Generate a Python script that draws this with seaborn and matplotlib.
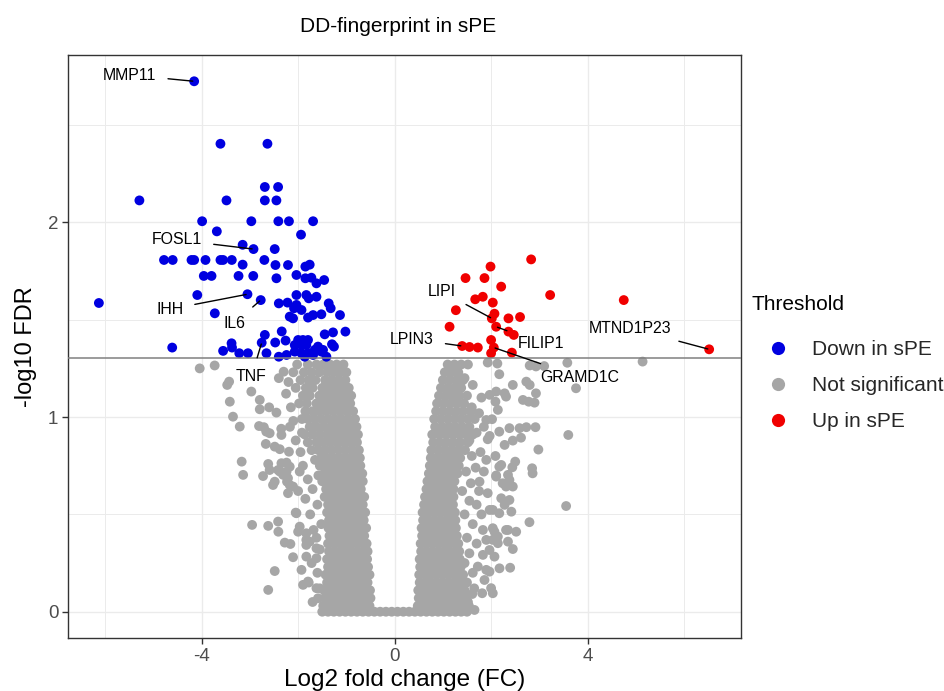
import matplotlib
matplotlib.use("Agg")
import matplotlib.pyplot as plt
import seaborn as sns
import pandas as pd
import numpy as np

# ---- significantly down-regulated genes (first five are labelled) ----
down_x = [-4.155, -2.925, -3.05, -2.775, -2.755,
          -3.61, -2.636, -5.29, -3.485, -2.69, -2.415, -2.69, -2.45,
          -3.99, -2.97, -2.41, -2.19, -1.69, -3.685, -1.94, -3.15, -2.485,
          -4.78, -4.60, -4.21, -4.155, -3.92, -3.61, -3.555, -3.375, -2.70,
          -3.15, -2.47, -2.21, -1.85, -1.76,
          -3.955, -3.795, -3.235, -2.93, -2.45, -2.035, -1.85, -1.725, -1.46, -1.62,
          -4.09, -2.40, -2.22, -2.035, -2.035, -2.085, -1.93, -1.83, -1.78, -1.62,
          -1.366, -1.325, -1.132, -2.174, -2.105, -1.795, -1.69, -1.518,
          -6.13, -3.727, -4.61, -3.555, -3.38, -3.37, -3.22, -3.04,
          -2.69, -2.656, -2.475, -2.40, -2.34, -2.26, -2.24,
          -1.449, -1.277, -1.02, -1.298, -1.257,
          -2.07, -2.0, -1.9, -1.795, -1.93, -1.83, -2.07, -1.93, -1.795,
          -1.656, -1.518, -1.414, -1.588, -1.484, -1.863, -1.69]
down_y = [2.725, 1.863, 1.631, 1.601, 1.382,
          2.404, 2.404, 2.113, 2.113, 2.182, 2.182, 2.113, 2.113,
          2.006, 2.006, 2.006, 2.006, 2.006, 1.954, 1.937, 1.885, 1.863,
          1.807, 1.807, 1.807, 1.807, 1.807, 1.807, 1.807, 1.807, 1.807,
          1.783, 1.781, 1.781, 1.773, 1.783,
          1.725, 1.725, 1.725, 1.725, 1.713, 1.730, 1.713, 1.716, 1.704, 1.687,
          1.627, 1.584, 1.588, 1.627, 1.576, 1.559, 1.550, 1.627, 1.610, 1.618,
          1.584, 1.559, 1.524, 1.516, 1.507, 1.511, 1.524, 1.528,
          1.586, 1.533, 1.357, 1.340, 1.379, 1.357, 1.328, 1.328,
          1.422, 1.328, 1.383, 1.310, 1.440, 1.393, 1.319,
          1.425, 1.435, 1.439, 1.374, 1.362,
          1.370, 1.396, 1.396, 1.396, 1.370, 1.370, 1.336, 1.328, 1.328,
          1.345, 1.336, 1.310, 1.362, 1.345, 1.310, 1.319]

# ---- significantly up-regulated genes (first five are labelled) ----
up_x = [2.015, 2.105, 1.40, 2.056, 6.52,
        2.83, 1.988, 1.47, 1.863, 2.209, 3.224, 1.671, 1.828, 2.035, 1.27,
        2.07, 2.36, 2.60, 1.139, 2.36, 2.47, 1.553, 1.725, 2.0, 2.0, 2.43, 4.75]
up_y = [1.507, 1.464, 1.365, 1.357, 1.348,
        1.810, 1.773, 1.714, 1.714, 1.670, 1.627, 1.605, 1.618, 1.588, 1.549,
        1.531, 1.507, 1.514, 1.464, 1.439, 1.422, 1.360, 1.357, 1.396, 1.328, 1.331, 1.601]

# ---- non-significant genes: dense cores listed row by row (y, [x ...]) ----
ns_rows = [
    (0.00, [-1.50, -1.38, -1.26, -1.14, -1.02, -0.90, -0.78, -0.66, -0.54, -0.42, -0.30, -0.18,
            -0.06, 0.06, 0.18, 0.30, 0.42, 0.54, 0.66, 0.78, 0.90, 1.02, 1.14, 1.26, 1.38, 1.50]),
    (0.03, [-1.48, -1.36, -1.24, -1.12, -1.00, -0.88, -0.76, -0.64, -0.52,
            0.48, 0.60, 0.72, 0.84, 0.96, 1.08, 1.20, 1.32, 1.44, 1.54]),
    (0.07, [-1.45, -1.33, -1.21, -1.09, -0.97, -0.85, -0.73, -0.61, -0.50,
            0.50, 0.62, 0.74, 0.86, 0.98, 1.10, 1.22, 1.34, 1.46]),
    (0.11, [-1.46, -1.34, -1.22, -1.10, -0.98, -0.86, -0.74, -0.62, -0.51,
            0.49, 0.61, 0.73, 0.85, 0.97, 1.09, 1.21, 1.33, 1.45]),
    (0.15, [-1.40, -1.28, -1.16, -1.04, -0.92, -0.80, -0.68, -0.56,
            0.52, 0.64, 0.76, 0.88, 1.00, 1.12, 1.24, 1.36, 1.44]),
    (0.19, [-1.43, -1.31, -1.19, -1.07, -0.95, -0.83, -0.71, -0.59, -0.52,
            0.51, 0.63, 0.75, 0.87, 0.99, 1.11, 1.23, 1.35, 1.42]),
    (0.23, [-1.38, -1.26, -1.14, -1.02, -0.90, -0.78, -0.66, -0.55,
            0.53, 0.65, 0.77, 0.89, 1.01, 1.13, 1.25, 1.37]),
    (0.27, [-1.40, -1.28, -1.16, -1.04, -0.92, -0.80, -0.68, -0.57,
            0.52, 0.64, 0.76, 0.88, 1.00, 1.12, 1.24, 1.35]),
    (0.31, [-1.36, -1.24, -1.12, -1.00, -0.88, -0.76, -0.64, -0.56,
            0.55, 0.67, 0.79, 0.91, 1.03, 1.15, 1.27, 1.34]),
    (0.35, [-1.38, -1.26, -1.14, -1.02, -0.90, -0.78, -0.66, -0.58,
            0.54, 0.66, 0.78, 0.90, 1.02, 1.14, 1.26, 1.32]),
    (0.39, [-1.35, -1.23, -1.11, -0.99, -0.87, -0.75, -0.63,
            0.57, 0.69, 0.81, 0.93, 1.05, 1.17, 1.29]),
    (0.43, [-1.37, -1.25, -1.13, -1.01, -0.89, -0.77, -0.65, -0.59,
            0.56, 0.68, 0.80, 0.92, 1.04, 1.16, 1.27]),
    (0.47, [-1.36, -1.24, -1.12, -1.00, -0.88, -0.76, -0.64,
            0.59, 0.71, 0.83, 0.95, 1.07, 1.19, 1.26]),
    (0.51, [-1.40, -1.28, -1.16, -1.04, -0.92, -0.80, -0.68, -0.61,
            0.58, 0.70, 0.82, 0.94, 1.06, 1.18, 1.25]),
    (0.55, [-1.38, -1.26, -1.14, -1.02, -0.90, -0.78, -0.66,
            0.61, 0.73, 0.85, 0.97, 1.09, 1.21]),
    (0.59, [-1.45, -1.33, -1.21, -1.09, -0.97, -0.85, -0.73, -0.63,
            0.63, 0.75, 0.87, 0.99, 1.11, 1.22]),
    (0.63, [-1.42, -1.30, -1.18, -1.06, -0.94, -0.82, -0.70,
            0.66, 0.78, 0.90, 1.02, 1.14, 1.22]),
    (0.67, [-1.50, -1.38, -1.26, -1.14, -1.02, -0.90, -0.78, -0.66,
            0.68, 0.80, 0.92, 1.04, 1.16, 1.24]),
    (0.71, [-1.46, -1.34, -1.22, -1.10, -0.98, -0.86, -0.74, -0.67,
            0.71, 0.83, 0.95, 1.07, 1.19, 1.30]),
    (0.75, [-1.55, -1.43, -1.31, -1.19, -1.07, -0.95, -0.83, -0.71,
            0.73, 0.85, 0.97, 1.09, 1.21, 1.33]),
    (0.79, [-1.52, -1.40, -1.28, -1.16, -1.04, -0.92, -0.80, -0.72,
            0.75, 0.87, 0.99, 1.11, 1.23, 1.36]),
    (0.83, [-1.72, -1.58, -1.44, -1.30, -1.16, -1.02, -0.88, -0.74,
            0.76, 0.90, 1.04, 1.18, 1.32, 1.46]),
    (0.87, [-1.80, -1.62, -1.48, -1.34, -1.20, -1.06, -0.92, -0.78,
            0.80, 0.94, 1.08, 1.22, 1.36, 1.52]),
    (0.91, [-1.86, -1.70, -1.55, -1.40, -1.26, -1.12, -0.98, -0.84, -0.76,
            0.78, 0.92, 1.06, 1.20, 1.34, 1.48, 1.62]),
    (0.95, [-1.76, -1.62, -1.47, -1.32, -1.18, -1.04, -0.90, -0.79,
            0.84, 0.98, 1.12, 1.26, 1.40, 1.55]),
    (0.99, [-1.92, -1.80, -1.66, -1.52, -1.38, -1.24, -1.10, -0.96, -0.82,
            0.82, 0.96, 1.10, 1.24, 1.38, 1.52, 1.66]),
    (1.03, [-1.85, -1.70, -1.56, -1.42, -1.28, -1.14, -1.00, -0.86,
            0.86, 1.00, 1.14, 1.28, 1.42, 1.58]),
    (1.07, [-1.98, -1.82, -1.62, -1.48, -1.34, -1.20, -1.06, -0.92,
            0.88, 1.02, 1.16, 1.30, 1.44]),
    (1.11, [-1.90, -1.76, -1.56, -1.42, -1.28, -1.14, -1.00, -0.90,
            0.92, 1.06, 1.20, 1.34, 1.50]),
    (1.15, [-2.05, -1.84, -1.70, -1.50, -1.36, -1.22, -1.08, -0.95,
            0.96, 1.10, 1.24, 1.38]),
    (1.19, [-1.95, -1.78, -1.64, -1.44, -1.30, -1.16, -1.02,
            1.00, 1.14, 1.28, 1.42]),
    (1.23, [-2.10, -1.88, -1.72, -1.56, -1.40, -1.26, -1.12, -1.00,
            1.04, 1.18, 1.32]),
    (1.27, [-2.02, -1.80, -1.62, -1.48, -1.34, -1.20, -1.06,
            1.10, 1.24, 1.38, 1.52]),
]

# ---- non-significant genes outside the dense cores ----
ns_extra_x = [
    -4.04, -3.73, -3.47, -3.43, -2.97, -3.416, -2.795, -2.795, -2.60, -2.45, -3.35, -3.21,
    -2.81, -2.71, -2.59, -2.346, -2.67, -2.485, -2.38, -2.19, -2.346, -2.174, -2.59, -3.14,
    -2.31, -2.21, -2.727, -2.52, -2.485, -2.21, -2.174, -2.23, -2.105, -2.38, -2.24, -1.967,
    -2.05, -2.954, -2.62, -2.415, -2.41, -2.277, -2.16, -2.0, -1.967, -2.105, -2.485, -1.93,
    -2.62, -1.795, -1.898, -1.588, -1.62, -1.83, -1.62, -1.76, -1.83, -1.62,
    -2.66, -2.35, -2.17, -3.17, -2.62, -2.415, -2.24, -2.035, -1.83, -1.83,
    -1.60, -1.72, -1.55, -1.68, -1.52, -1.75, -1.60, -1.85, -1.70, -1.58, -1.80, -1.90,
    -1.65, -1.95, -2.05, -1.55, -1.70, -1.62, -1.78, -2.0, -1.92, -2.1, -2.15, -2.25,
    -2.2, -2.30, -2.40,
    1.93, 2.13, 2.17, 2.80, 2.93, 3.10, 3.58, 5.14, 1.62, 1.35, 1.21,
    2.73, 2.80, 2.93, 2.45, 2.28, 2.31, 2.105, 1.97, 2.09, 3.76, 2.66, 2.78, 2.90,
    2.14, 2.02, 1.90, 2.38, 2.59, 2.73, 2.92, 3.60, 2.17, 1.97, 1.93, 2.62, 2.45, 2.28,
    2.98, 2.09, 2.21, 2.50, 2.44, 2.85, 2.86, 2.17, 2.105, 2.24, 2.38, 2.45, 2.31,
    2.35, 2.105, 1.76, 1.93, 1.97, 2.38, 2.21, 2.42, 2.28, 2.035, 2.17,
    3.555, 2.795, 2.52, 2.35, 2.31, 2.07, 2.035, 1.83, 2.14, 2.035, 1.90, 2.35, 2.45,
    2.14, 1.967, 2.07, 1.83, 1.725, 2.174, 2.395, 1.90, 1.967, 1.863, 2.0, 2.035,
    1.815, 1.61, 1.656,
    1.45, 1.55, 1.50, 1.62, 1.45, 1.55, 1.70, 1.40, 1.58, 1.48, 1.68, 1.60, 1.78, 1.50,
    1.62, 1.70, 1.80, 1.75, 1.85, 1.55, 1.70, 1.85, 1.75, 1.60, 1.80, 1.45, 1.90, 1.65, 1.52,
]
ns_extra_y = [
    1.250, 1.265, 1.165, 1.182, 1.131, 1.079, 1.088, 1.040, 1.050, 1.023, 1.002, 0.951,
    0.954, 0.948, 0.917, 0.908, 0.862, 0.848, 0.835, 0.822, 0.763, 0.745, 0.728, 0.703,
    0.703, 0.686, 0.697, 0.651, 0.668, 0.609, 0.651, 0.668, 0.643, 0.720, 0.720, 0.720,
    0.509, 0.446, 0.441, 0.463, 0.411, 0.355, 0.348, 0.411, 0.437, 0.280, 0.209, 0.215,
    0.112, 0.155, 0.138, 0.069, 0.121, 0.283, 0.275, 0.360, 0.343, 0.326,
    0.925, 0.940, 0.950, 0.771, 0.759, 0.728, 0.766, 0.506, 0.403, 0.369,
    0.20, 0.25, 0.32, 0.42, 0.45, 0.50, 0.55, 0.58, 0.63, 0.70, 0.68, 0.75,
    0.78, 0.82, 0.88, 0.12, 0.05, 0.38, 0.15, 0.62, 0.92, 0.98, 1.05, 1.12,
    1.18, 1.233, 1.20,
    1.280, 1.275, 1.220, 1.265, 1.260, 1.262, 1.279, 1.285, 1.165, 1.170, 1.140,
    1.182, 1.165, 1.122, 1.165, 1.122, 1.105, 1.131, 1.114, 1.079, 1.148, 1.088, 1.079, 1.074,
    1.037, 0.989, 0.985, 0.943, 0.943, 0.948, 0.948, 0.908, 0.925, 0.903, 0.886, 0.894, 0.879, 0.857,
    0.833, 0.800, 0.754, 0.771, 0.742, 0.737, 0.711, 0.745, 0.694, 0.660, 0.677, 0.643, 0.643,
    0.703, 0.700, 0.668, 0.609, 0.523, 0.574, 0.583, 0.514, 0.549, 0.523, 0.506,
    0.543, 0.460, 0.411, 0.420, 0.420, 0.411, 0.429, 0.420, 0.386, 0.369, 0.369, 0.360, 0.322,
    0.352, 0.317, 0.283, 0.292, 0.232, 0.223, 0.226, 0.215, 0.206, 0.163, 0.121, 0.095,
    0.095, 0.091, 0.009,
    0.25, 0.30, 0.38, 0.45, 0.50, 0.57, 0.55, 0.62, 0.66, 0.72, 0.74, 0.80, 0.82, 0.15,
    0.20, 0.35, 0.50, 0.62, 0.72, 0.88, 0.92, 0.95, 1.02, 1.05, 1.10, 1.20, 0.78, 0.12, 0.05,
]

groups = ["Down in sPE", "Not significant", "Up in sPE"]
group_colors = ["#0000E0", "#A6A6A6", "#F00000"]

# labelled genes: the first five of down_* and of up_*
label_names = ["MMP11", "FOSL1", "IHH", "IL6", "TNF",
               "LIPI", "FILIP1", "LPIN3", "GRAMD1C", "MTND1P23"]
label_text_pos = [(-5.49, 2.757), (-4.51, 1.910), (-4.66, 1.554), (-3.33, 1.482), (-2.967, 1.208),
                  (0.97, 1.646), (3.04, 1.379), (0.36, 1.401), (3.84, 1.205), (4.89, 1.456)]

fdr_cutoff = 0.05

# ---- assemble the long table ----
ns_x, ns_y = [], []
for yv, xs in ns_rows:
    ns_x.extend(xs)
    ns_y.extend([yv] * len(xs))
ns_x += ns_extra_x
ns_y += ns_extra_y

df = pd.DataFrame({
    "log2FC": ns_x + down_x + up_x,
    "nlogFDR": ns_y + down_y + up_y,
    "Threshold": [groups[1]] * len(ns_x) + [groups[0]] * len(down_x) + [groups[2]] * len(up_x),
})

sns.set_theme(style="white")
plt.rcParams["font.family"] = ["Liberation Sans", "DejaVu Sans"]
plt.rcParams["axes.unicode_minus"] = False

fig = plt.figure(figsize=(9.45, 6.91), dpi=100)
ax = fig.add_axes([68 / 945, 1 - 638 / 691, (741 - 68) / 945, (638 - 55) / 691])

sns.scatterplot(data=df, x="log2FC", y="nlogFDR", hue="Threshold", hue_order=groups,
                palette=dict(zip(groups, group_colors)), s=50, linewidth=0,
                ax=ax, zorder=3)

ax.axhline(-np.log10(fdr_cutoff), color="#808080", lw=1.1, zorder=4)

ax.set_xlim(-6.77, 7.18)
ax.set_ylim(-0.135, 2.86)
ax.set_xticks([-4, 0, 4])
ax.set_xticks([-6, -2, 2, 6], minor=True)
ax.set_yticks([0, 1, 2])
ax.set_yticks([0.5, 1.5, 2.5], minor=True)
ax.grid(which="major", color="#EBEBEB", lw=1.0, zorder=0)
ax.grid(which="minor", color="#EBEBEB", lw=0.7, zorder=0)
ax.set_axisbelow(True)
for sp in ax.spines.values():
    sp.set_color("#333333")
    sp.set_linewidth(1.0)
ax.tick_params(which="major", length=4, width=1, color="#333333",
               labelsize=13.5, labelcolor="#4D4D4D", pad=3,
               bottom=True, left=True)
ax.tick_params(which="minor", length=0)

ax.set_xlabel("Log2 fold change (FC)", fontsize=17.5, color="black", labelpad=3)
ax.set_ylabel("-log10 FDR", fontsize=17, color="black", labelpad=8)
fig.text(398 / 945, 1 - 27 / 691, "DD-fingerprint in sPE", ha="center", va="center",
         fontsize=15, color="black")

# gene labels with leader segments
points = list(zip(down_x[:5], down_y[:5])) + list(zip(up_x[:5], up_y[:5]))
for name, (px, py), (tx, ty) in zip(label_names, points, label_text_pos):
    ax.annotate(name, xy=(px, py), xytext=(tx, ty), ha="center", va="center",
                fontsize=11.4, color="black", zorder=6,
                arrowprops=dict(arrowstyle="-", color="black", lw=1.0,
                                shrinkA=6, shrinkB=1))

# legend: title drawn separately so the gap above the keys can be set freely
handles, labels = ax.get_legend_handles_labels()
ax.legend_.remove()
fig.text(752 / 945, 1 - 305 / 691, "Threshold", ha="left", va="center",
         fontsize=15, color="black")
leg = fig.legend(handles, labels, loc="upper left",
                 bbox_to_anchor=(752 / 945, 1 - 340 / 691), frameon=False,
                 fontsize=15, handlelength=2.5,
                 handletextpad=0.4, labelspacing=0.82, borderpad=0,
                 borderaxespad=0)
for h in leg.legend_handles:
    h.set_markersize(9.5)
    try:
        h.set_sizes([90])
    except Exception:
        pass

fig.savefig("out.png", dpi=100)
